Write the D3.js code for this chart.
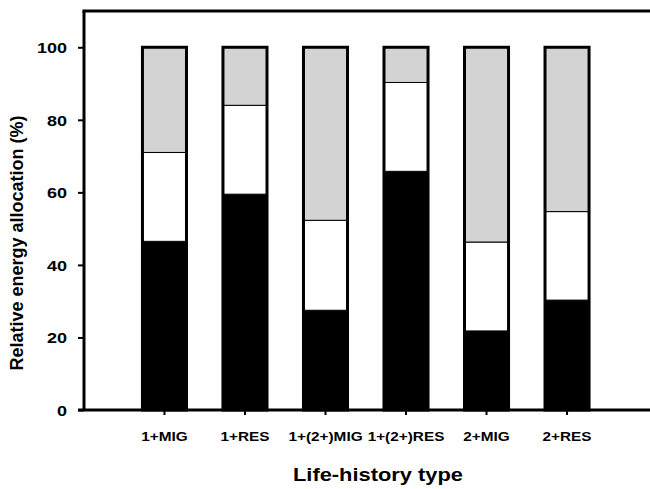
<!DOCTYPE html>
<html>
<head>
<meta charset="utf-8">
<script src="https://cdn.jsdelivr.net/npm/d3@7"></script>
<style>
  body { margin: 0; background: #fff; }
  text { font-family: "Liberation Sans", Arial, sans-serif; font-weight: bold; }
</style>
</head>
<body>
<script>
// chart data
var types = ["1+MIG", "1+RES", "1+(2+)MIG", "1+(2+)RES", "2+MIG", "2+RES"];
var lower = [46.5, 59.5, 27.5, 65.8, 21.8, 30.3];   // black part
var middle = [24.5, 24.5, 24.8, 24.5, 24.5, 24.4];  // white part
var upper = [29.0, 16.0, 47.7, 9.7, 53.7, 45.3];    // grey part
var yTicks = [0, 20, 40, 60, 80, 100];

var W = 650, H = 489;
var x0 = 84, y0 = 410, yTop = 11;

// the original lettering is a bit wider than Arial, so stretch it
function widen(sel, ratio) {
    sel.each(function() {
        var w = this.getComputedTextLength();
        d3.select(this).attr("textLength", w * ratio).attr("lengthAdjust", "spacingAndGlyphs");
    });
}

var svg = d3.select("body").append("svg")
    .attr("width", W)
    .attr("height", H);

var x = d3.scaleBand().domain(types).range([124.25, 607.25]).paddingInner(0.453).paddingOuter(0.226);
var y = d3.scaleLinear().domain([0, 110]).range([y0, yTop]);

var fills = ["#000000", "#ffffff", "#d3d3d3"];
var parts = [lower, middle, upper];

// bars
types.forEach(function(t, i) {
    var base = 0;
    parts.forEach(function(arr, k) {
        var v = arr[i];
        svg.append("rect")
            .attr("x", x(t))
            .attr("y", y(base + v))
            .attr("width", x.bandwidth())
            .attr("height", y(base) - y(base + v))
            .style("fill", fills[k])
            .style("stroke", "#000")
            .style("stroke-width", 1);
        base += v;
    });
    // thick outline round the whole bar
    svg.append("rect")
        .attr("x", x(t))
        .attr("y", y(base))
        .attr("width", x.bandwidth())
        .attr("height", y(0) - y(base))
        .style("fill", "none")
        .style("stroke", "#000")
        .style("stroke-width", 3);
});

// y axis
var yAxis = svg.append("g")
    .attr("transform", "translate(" + x0 + ",0)")
    .call(d3.axisLeft(y).tickValues(yTicks).tickSize(6).tickPadding(11));
yAxis.select(".domain").remove();
yAxis.selectAll(".tick line").style("stroke-width", 2);
yAxis.selectAll("text").style("font-size", "15px").attr("dy", "0.36em");
widen(yAxis.selectAll("text"), 1.2);
svg.append("line")
    .attr("x1", x0).attr("x2", x0)
    .attr("y1", y(110)).attr("y2", y0)
    .style("stroke", "#000").style("stroke-width", 3);

// x axis
var xAxis = svg.append("g")
    .attr("transform", "translate(0," + y0 + ")")
    .call(d3.axisBottom(x).tickSize(5));
xAxis.select(".domain").remove();
xAxis.selectAll(".tick line").style("stroke-width", 2);
xAxis.selectAll("text").attr("y", 31).attr("dy", null).style("font-size", "13px");
widen(xAxis.selectAll("text"), 1.18);
svg.append("line")
    .attr("x1", 78).attr("x2", W)
    .attr("y1", y0).attr("y2", y0)
    .style("stroke", "#000").style("stroke-width", 3);

// top frame line
svg.append("line")
    .attr("x1", x0 - 1.5).attr("x2", W)
    .attr("y1", y(110)).attr("y2", y(110))
    .style("stroke", "#000").style("stroke-width", 3);

// axis titles
svg.append("text")
    .attr("transform", "translate(23,243) rotate(-90)")
    .style("text-anchor", "middle")
    .style("font-size", "18px")
    .text("Relative energy allocation (%)");

var xt = svg.append("text")
    .attr("x", 378)
    .attr("y", 481)
    .style("text-anchor", "middle")
    .style("font-size", "19px")
    .text("Life-history type");
widen(xt, 1.15);
</script>
</body>
</html>
